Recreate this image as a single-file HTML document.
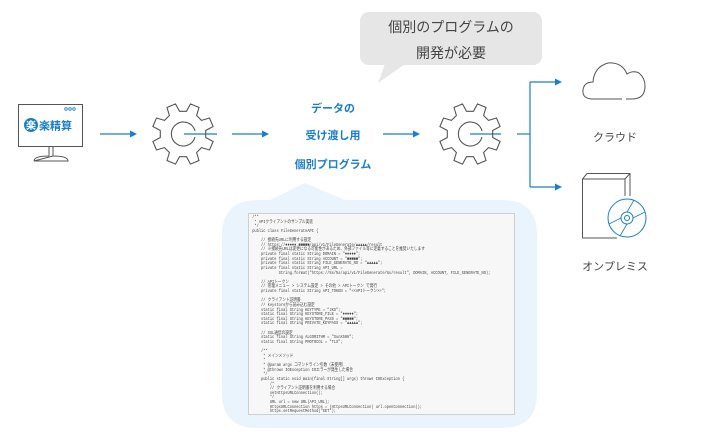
<!DOCTYPE html>
<html><head><meta charset="utf-8"><style>
html,body{margin:0;padding:0;background:#fff;width:711px;height:444px;overflow:hidden;font-family:"Liberation Sans","Noto Sans CJK JP",sans-serif;}
.code{position:absolute;left:248px;top:213px;width:267px;height:202px;background:#f7f7f7;border:1px solid #cfcfcf;box-sizing:border-box;overflow:hidden;}
.code pre{margin:0;padding:2px 0 0 4px;font-family:"Liberation Mono","Noto Sans CJK JP",monospace;font-size:4.6px;line-height:4.62px;color:#444;white-space:pre;transform:scaleX(0.8);transform-origin:0 0;}
</style></head><body>
<svg width="711" height="444" style="position:absolute;left:0;top:0">
<path d="M258 200 L270 200 L305 183 L345 200 L502 200 Q537 200 537 235 L537 393 Q537 428 502 428 L257 428 Q222 428 222 393 L222 235 Q222 200 258 200 Z" fill="#eaf4fd"/>
<rect x="360" y="12" width="182" height="53" rx="9" fill="#e6e6e6"/>
<path d="M385 64 L378 83 L405 64 Z" fill="#e6e6e6"/>
<text x="451" y="32" font-size="14" fill="#444" text-anchor="middle">個別のプログラムの</text>
<text x="451" y="58" font-size="14" fill="#444" text-anchor="middle">開発が必要</text>
<rect x="18.5" y="104.5" width="64" height="42" fill="#fff" stroke="#555" stroke-width="1"/>
<circle cx="66" cy="109" r="1.3" fill="none" stroke="#1a7fc8" stroke-width="0.8"/>
<circle cx="70" cy="109" r="1.3" fill="none" stroke="#1a7fc8" stroke-width="0.8"/>
<circle cx="74" cy="109" r="1.3" fill="none" stroke="#1a7fc8" stroke-width="0.8"/>
<circle cx="31" cy="125" r="7" fill="#1a7fc8"/>
<text x="31" y="129" font-size="10" fill="#fff" text-anchor="middle" font-weight="bold">楽</text>
<text x="39" y="129.5" font-size="11" fill="#1a7fc8" font-weight="bold">楽精算</text>
<path d="M49 147 V156 M53 147 V156 M34 161 Q34 156 49 156 M53 156 Q68 156 68 161 L34 161 Z" fill="none" stroke="#555" stroke-width="1"/>
<g stroke="#1a7fc8" stroke-width="1.2" fill="#1a7fc8">
<line x1="100" y1="134" x2="131" y2="134"/><path d="M137 134 L130 130.5 L130 137.5Z" stroke="none"/>
<line x1="184" y1="134" x2="217" y2="134"/>
<line x1="232" y1="134" x2="263" y2="134"/><path d="M269 134 L262 130.5 L262 137.5Z" stroke="none"/>
<line x1="383" y1="134" x2="414" y2="134"/><path d="M420 134 L413 130.5 L413 137.5Z" stroke="none"/>
<line x1="470" y1="134" x2="501" y2="134"/>
<line x1="517" y1="134" x2="530" y2="134"/>
<path d="M530 82 V187 M530 82 H555 M530 187 H555" fill="none"/>
<path d="M562 82 L555 78.5 L555 85.5Z M562 187 L555 183.5 L555 190.5Z" stroke="none"/>
</g>
<g id="gears" fill="none" stroke="#555" stroke-width="1.1"></g>
<g font-size="11" font-weight="bold" fill="#1a7fc8" text-anchor="middle">
<text x="333" y="112">データの</text>
<text x="333" y="139">受け渡し用</text>
<text x="333" y="168">個別プログラム</text>
</g>
<path d="M593 99 Q582 99 583 90 Q584 82 593 82 Q594 67 608 63 Q622 62 627 74 Q633 70 639 73 Q645 78 645 86 Q645 99 632 99 L626 99 M622 99 L593 99" fill="none" stroke="#555" stroke-width="1"/>
<text x="615" y="141" font-size="11" fill="#444" text-anchor="middle">クラウド</text>
<path d="M582.5 238 V179 L587 173.5 H630 V196 M582.5 179 H625 V196 M625 179 L630 173.5 M582.5 238 H617" fill="none" stroke="#555" stroke-width="1"/>
<circle cx="627" cy="218" r="19" fill="#fff" stroke="#1a7fc8" stroke-width="1"/>
<circle cx="627" cy="218" r="6" fill="none" stroke="#1a7fc8" stroke-width="1"/>
<circle cx="627" cy="218" r="2.5" fill="none" stroke="#1a7fc8" stroke-width="1"/>
<path d="M627 212 L634 200 M627 224 L620 236 M621 218 L609 224 M633 218 L645 212" stroke="#1a7fc8" stroke-width="0.8"/>
<text x="615" y="270" font-size="11" fill="#444" text-anchor="middle">オンプレミス</text>
</svg>
<div class="code"><pre>/**
 * APIクライアントのサンプル実装
 */
public class FileGenerateAPI {

    // 接続先URLに利用する設定
    // https://●●●●●.■■■■■/api/v1/FileGenerate/▲▲▲▲▲/result
    // ※接続先URLは変更になる可能性があるため、外部ファイル等に定義することを推奨いたします
    private final static String DOMAIN = "●●●●●";
    private final static String ACCOUNT = "■■■■■";
    private final static String FILE_GENERATE_NO = "▲▲▲▲▲";
    private final static String API_URL =
            String.format("https://%s/%s/api/v1/FileGenerate/%s/result", DOMAIN, ACCOUNT, FILE_GENERATE_NO);

    // APIトークン
    // 管理メニュー > システム設定 > その他 > APIトークン で発行
    private final static String API_TOKEN = "&lt;&lt;APIトークン&gt;&gt;";

    // クライアント証明書
    // keystoreから読み込む設定
    static final String KEYTYPE = "JKS";
    static final String KEYSTORE_FILE = "●●●●●";
    static final String KEYSTORE_PASS = "■■■■■";
    static final String PRIVATE_KEYPASS = "▲▲▲▲▲";

    // SSL通信の設定
    static final String ALGORITHM = "SunX509";
    static final String PROTOCOL = "TLS";

    /**
     * メインメソッド
     *
     * @param args コマンドライン引数（未使用）
     * @throws IOException IOエラーが発生した場合
     */
    public static void main(final String[] args) throws IOException {
        /*
        // クライアント証明書を利用する場合
        setHttpsURLConnection();
        */
        URL url = new URL(API_URL);
        HttpsURLConnection https = (HttpsURLConnection) url.openConnection();
        https.setRequestMethod("GET");
</pre></div>
<script>
function gear(cx,cy){var n=8,R=31,r=23,p=[];for(var i=0;i<n;i++){var a=i*2*Math.PI/n+Math.PI/8;var pts=[[r,a-0.24],[R,a-0.15],[R,a+0.15],[r,a+0.24]];pts.forEach(function(q){p.push((cx+q[0]*Math.cos(q[1])).toFixed(1)+","+(cy+q[0]*Math.sin(q[1])).toFixed(1));});}
return '<polygon points="'+p.join(" ")+'"/><path d="M'+(cx+12)+' '+(cy-3)+' A12 12 0 1 0 '+(cx+12)+' '+(cy+3)+'"/>';}
document.getElementById("gears").innerHTML=gear(183,134)+gear(470,134);
</script>
</body></html>
